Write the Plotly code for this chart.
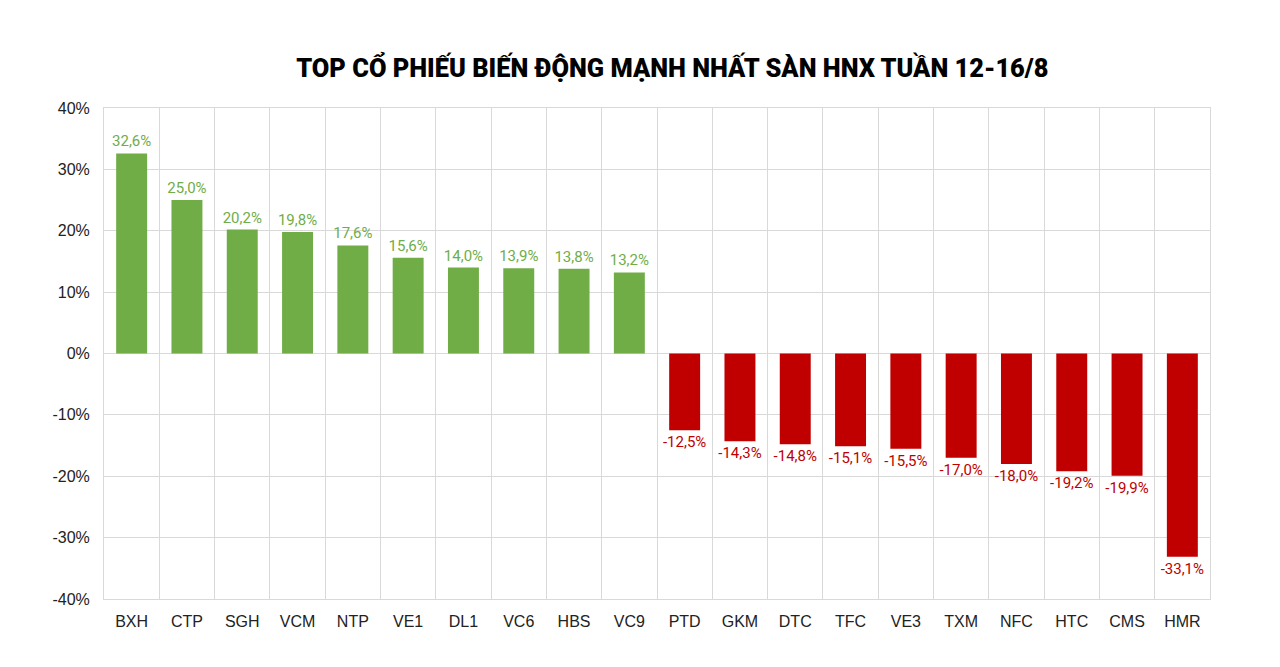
import plotly.graph_objects as go

tickers = ["BXH", "CTP", "SGH", "VCM", "NTP", "VE1", "DL1", "VC6", "HBS", "VC9",
           "PTD", "GKM", "DTC", "TFC", "VE3", "TXM", "NFC", "HTC", "CMS", "HMR"]
changes = [32.6, 25.0, 20.2, 19.8, 17.6, 15.6, 14.0, 13.9, 13.8, 13.2,
           -12.5, -14.3, -14.8, -15.1, -15.5, -17.0, -18.0, -19.2, -19.9, -33.1]
y_ticks = [-40, -30, -20, -10, 0, 10, 20, 30, 40]

GREEN = "#70ad47"
RED = "#c00000"

colors = [GREEN if v >= 0 else RED for v in changes]
labels = [f"{v:.1f}%".replace(".", ",") for v in changes]

fig = go.Figure()
fig.add_trace(
    go.Bar(
        x=tickers,
        y=changes,
        marker=dict(color=colors, line=dict(width=0)),
        text=labels,
        textposition="outside",
        constraintext="none",
        textfont=dict(family="Roboto", size=15, color=colors),
        cliponaxis=False,
    )
)

fig.update_layout(
    title=dict(
        text="TOP CỔ PHIẾU BIẾN ĐỘNG MẠNH NHẤT SÀN HNX TUẦN 12-16/8",
        x=0.519, xanchor="center", y=0.91, yanchor="middle",
        font=dict(family="Roboto", size=25.4, weight=900, color="#000000"),
    ),
    width=1280, height=667,
    margin=dict(l=96, r=78, t=100, b=76),
    plot_bgcolor="white", paper_bgcolor="white",
    bargap=0.44,
    showlegend=False,
)
fig.update_xaxes(
    type="category",
    tickson="boundaries",
    ticks="",
    showgrid=True, gridcolor="#d9d9d9", gridwidth=1,
    showline=True, linecolor="#d9d9d9", mirror=True,
    tickfont=dict(family="Liberation Sans", size=16, color="#222222"),
    ticklabelstandoff=8,
)
fig.update_yaxes(
    range=[-40, 40],
    tickvals=y_ticks,
    ticktext=[f"{v}%" for v in y_ticks],
    showgrid=True, gridcolor="#d9d9d9", gridwidth=1,
    zeroline=True, zerolinecolor="#d9d9d9", zerolinewidth=1,
    showline=True, linecolor="#d9d9d9", mirror=True,
    tickfont=dict(family="Liberation Sans", size=16, color="#222222"),
    ticklabelstandoff=10,
)

fig.write_html("out.html")
